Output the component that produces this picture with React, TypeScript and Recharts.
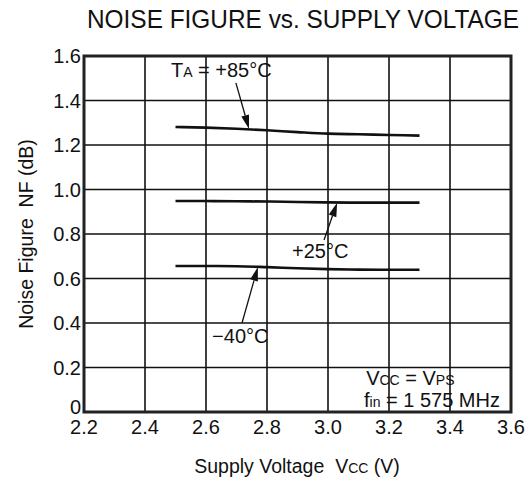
import { LineChart, Line, XAxis, YAxis, CartesianGrid, ReferenceArea, ReferenceLine, ReferenceDot, Customized } from 'recharts';

const FONT = 'Liberation Sans, Arial, Helvetica, sans-serif';
const INK = '#111';

const voltages = [2.5, 2.6, 2.7, 2.8, 2.9, 3.0, 3.1, 3.2, 3.3];
const nf85 = [1.281, 1.278, 1.273, 1.266, 1.258, 1.251, 1.248, 1.245, 1.242];
const nf25 = [0.948, 0.948, 0.947, 0.946, 0.944, 0.942, 0.941, 0.941, 0.941];
const nfm40 = [0.656, 0.656, 0.655, 0.651, 0.646, 0.642, 0.64, 0.639, 0.639];

const xTicks = [2.2, 2.4, 2.6, 2.8, 3.0, 3.2, 3.4, 3.6];
const yTicks = [0, 0.2, 0.4, 0.6, 0.8, 1.0, 1.2, 1.4, 1.6];

// arrows: [tailX, tailY, tipX, tipY]
const arrows = [
  [2.698, 1.479, 2.741, 1.272],
  [2.987, 0.773, 3.03, 0.941],
  [2.718, 0.4, 2.77, 0.652],
];

const data = voltages.map((v, i) => ({ v, a: nf85[i], b: nf25[i], c: nfm40[i] }));

const Arrow = (p: any) => {
  const { x1, y1, x2, y2 } = p;
  const ang = Math.atan2(y2 - y1, x2 - x1);
  const len = 14;
  const w = 4;
  const bx = x2 - len * Math.cos(ang);
  const by = y2 - len * Math.sin(ang);
  const nx = -Math.sin(ang) * w;
  const ny = Math.cos(ang) * w;
  return (
    <g>
      <line x1={x1} y1={y1} x2={bx} y2={by} stroke={INK} strokeWidth={1.3} />
      <polygon points={`${x2},${y2} ${bx + nx},${by + ny} ${bx - nx},${by - ny}`} fill={INK} />
    </g>
  );
};

const YTick = (p: any) => {
  const v = p.payload.value;
  return (
    <text x={p.x + 7} y={p.y + (v === 0 ? -5 : 0)} dy="0.355em" textAnchor="end"
      fontFamily={FONT} fontSize={20} fill={INK}>
      {v === 0 ? '0' : v.toFixed(1)}
    </text>
  );
};

const note = (content: any) => (p: any) => (
  <text x={p.cx} y={p.cy} fontFamily={FONT} fontSize={20} fill={INK}>
    {content}
  </text>
);

const Titles = () => (
  <g fontFamily={FONT} fill={INK}>
    <text x={303} y={28} textAnchor="middle" fontSize={25} textLength={432} lengthAdjust="spacingAndGlyphs">
      NOISE FIGURE vs. SUPPLY VOLTAGE
    </text>
    <text x={297} y={473} textAnchor="middle" fontSize={19.5}>
      Supply Voltage{'\u00a0\u00a0'}V<tspan fontSize={14}>CC</tspan> (V)
    </text>
    <text x={0} y={0} textAnchor="middle" fontSize={19.5} transform="translate(33,234) rotate(-90)">
      Noise Figure{'\u00a0\u00a0'}NF (dB)
    </text>
  </g>
);

export default function App() {
  return (
    <div style={{ position: 'absolute', left: 0, top: 0, background: '#fff' }}>
      <LineChart width={530} height={482} data={data} margin={{ top: 56, right: 19, bottom: 40, left: 24 }}>
        <CartesianGrid stroke={INK} strokeWidth={1.6} />
        <XAxis
          dataKey="v"
          type="number"
          domain={[2.2, 3.6]}
          ticks={xTicks}
          tickFormatter={(t: number) => t.toFixed(1)}
          axisLine={false}
          tickLine={false}
          height={30}
          tick={{ fontFamily: FONT, fontSize: 20, fill: INK }}
          tickMargin={2}
          interval={0}
        />
        <YAxis
          type="number"
          domain={[0, 1.6]}
          ticks={yTicks}
          axisLine={false}
          tickLine={false}
          width={60}
          tick={<YTick />}
          tickMargin={4}
          interval={0}
        />
        <ReferenceArea x1={2.2} x2={3.6} y1={0} y2={1.6} fill="none" stroke="#222" strokeWidth={3} ifOverflow="visible" />
        <Line dataKey="a" type="monotone" stroke={INK} strokeWidth={2.6} dot={false} isAnimationActive={false} />
        <Line dataKey="b" type="monotone" stroke={INK} strokeWidth={2.6} dot={false} isAnimationActive={false} />
        <Line dataKey="c" type="monotone" stroke={INK} strokeWidth={2.6} dot={false} isAnimationActive={false} />
        {arrows.map((s, i) => (
          <ReferenceLine
            key={i}
            segment={[{ x: s[0], y: s[1] }, { x: s[2], y: s[3] }]}
            shape={Arrow}
            ifOverflow="visible"
          />
        ))}
        <ReferenceDot x={2.485} y={1.506} r={0} ifOverflow="visible"
          shape={note(<>T<tspan fontSize={14}>A</tspan> = +85°C</>)} />
        <ReferenceDot x={2.882} y={0.692} r={0} ifOverflow="visible" shape={note('+25°C')} />
        <ReferenceDot x={2.62} y={0.31} r={0} ifOverflow="visible" shape={note('\u221240°C')} />
        <ReferenceDot x={3.125} y={0.121} r={0} ifOverflow="visible"
          shape={note(<>V<tspan fontSize={14}>CC</tspan> = V<tspan fontSize={14}>PS</tspan></>)} />
        <ReferenceDot x={3.118} y={0.022} r={0} ifOverflow="visible"
          shape={note(<>f<tspan fontSize={14}>in</tspan> = 1 575 MHz</>)} />
        <Customized component={<Titles />} />
      </LineChart>
    </div>
  );
}
